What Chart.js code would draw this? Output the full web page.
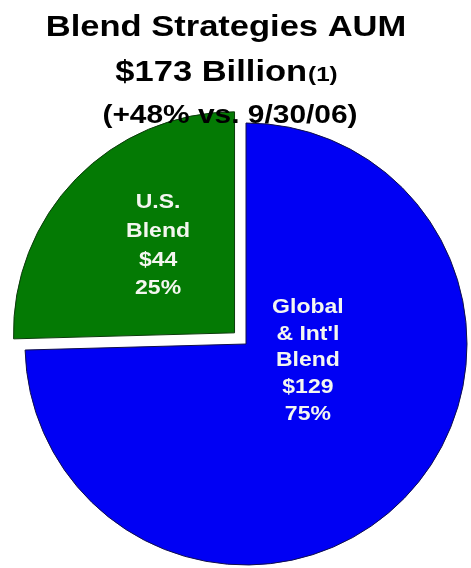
<!DOCTYPE html>
<html>
<head>
<meta charset="utf-8">
<script src="https://cdn.jsdelivr.net/npm/chart.js@4"></script>
<style>
  html, body { margin: 0; padding: 0; background: #fff; }
  canvas { display: block; }
</style>
</head>
<body>
<canvas id="aumChart" width="471" height="568"></canvas>
<script>
// Blend strategies AUM split, $ billions
const segments = ["Global & Int'l Blend", 'U.S. Blend'];
const segmentLines = [['Global', "& Int'l", 'Blend'], ['U.S.', 'Blend']];
const aumBillions = [129, 44];
const sharePct = [75, 25];
const titleLines = ['Blend Strategies AUM', '$173 Billion', '(+48% vs. 9/30/06)'];
const titleNote = '(1)';

const FONT = "'Liberation Sans', Arial, sans-serif";
const SX = 1.15; // text is set a little wide

function wideText(ctx, text, x, y, sx) {
    ctx.save();
    ctx.translate(x, y);
    ctx.scale(sx, 1);
    ctx.fillText(text, 0, 0);
    ctx.restore();
}

// slice captions: name lines, value and share
const sliceLabels = {
    id: 'sliceLabels',
    afterDatasetsDraw(chart) {
        const ctx = chart.ctx;
        const meta = chart.getDatasetMeta(0);
        const place = [
            { fx: 0.28, fy: 0.07, lh: 26.8 },
            { fx: -0.346, fy: -0.40, lh: 28.7 }
        ];
        ctx.save();
        ctx.fillStyle = '#f4f6f0';
        ctx.font = 'bold 20px ' + FONT;
        ctx.textAlign = 'center';
        ctx.textBaseline = 'alphabetic';
        meta.data.forEach((arc, i) => {
            const half = (arc.startAngle + arc.endAngle) / 2;
            const shift = (arc.options.offset || 0) / 4;
            const cx = arc.x + Math.cos(half) * shift + place[i].fx * arc.outerRadius;
            const cy = arc.y + Math.sin(half) * shift + place[i].fy * arc.outerRadius;
            const lines = segmentLines[i].concat(['$' + aumBillions[i], sharePct[i] + '%']);
            const top = cy - (lines.length - 1) / 2 * place[i].lh + 7;
            lines.forEach((t, k) => wideText(ctx, t, cx, top + k * place[i].lh, SX));
        });
        ctx.restore();
    }
};

// heading drawn over the pie
const heading = {
    id: 'heading',
    afterDraw(chart) {
        const ctx = chart.ctx;
        ctx.save();
        ctx.fillStyle = '#000';
        ctx.textBaseline = 'alphabetic';

        ctx.font = 'bold 30px ' + FONT;
        ctx.textAlign = 'center';
        wideText(ctx, titleLines[0], 226, 36, SX);

        ctx.textAlign = 'left';
        const w1 = ctx.measureText(titleLines[1]).width * SX;
        ctx.font = 'bold 21px ' + FONT;
        const w2 = ctx.measureText(titleNote).width * SX;
        const left = 226 - (w1 + w2) / 2;
        ctx.font = 'bold 30px ' + FONT;
        wideText(ctx, titleLines[1], left, 81, SX);
        ctx.font = 'bold 21px ' + FONT;
        wideText(ctx, titleNote, left + w1 + 1, 81, SX);

        ctx.font = 'bold 26px ' + FONT;
        ctx.textAlign = 'center';
        wideText(ctx, titleLines[2], 230, 123, SX);
        ctx.restore();
    }
};

new Chart(document.getElementById('aumChart'), {
    type: 'pie',
    data: {
        labels: segments,
        datasets: [{
            data: aumBillions,
            backgroundColor: ['#0000f4', '#047a04'],
            borderColor: ['#10104a', '#0b3a0b'],
            borderWidth: 1,
            offset: [0, 64]
        }]
    },
    options: {
        responsive: false,
        animation: false,
        events: [],
        radius: 221,
        rotation: 0,
        layout: { padding: { left: 21, right: 0, top: 120, bottom: 0 } },
        plugins: {
            legend: { display: false },
            title: { display: false },
            tooltip: { enabled: false }
        }
    },
    plugins: [sliceLabels, heading]
});
</script>
</body>
</html>
